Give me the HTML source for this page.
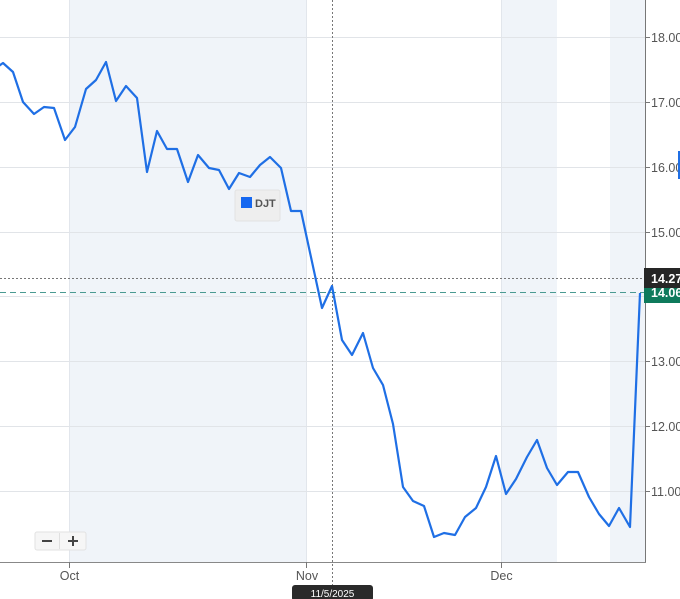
<!DOCTYPE html>
<html><head><meta charset="utf-8"><style>
html,body{margin:0;padding:0;background:#fff;}
svg{display:block;font-family:"Liberation Sans",Arial,sans-serif;}
</style></head><body>
<svg width="680" height="599" viewBox="0 0 680 599" xmlns="http://www.w3.org/2000/svg">
<rect x="0" y="0" width="680" height="599" fill="#fff"/>
<!-- bands -->
<rect x="69" y="0" width="237" height="562" fill="#f0f4f9"/>
<rect x="501" y="0" width="56" height="562" fill="#f0f4f9"/>
<rect x="610" y="0" width="35" height="562" fill="#f0f4f9"/>
<!-- vertical grid -->
<g stroke="#e2e6ec" stroke-width="1">
<line x1="69.5" y1="0" x2="69.5" y2="562"/>
<line x1="306.5" y1="0" x2="306.5" y2="562"/>
<line x1="501.5" y1="0" x2="501.5" y2="562"/>
</g>
<!-- horizontal grid -->
<g stroke="#e1e4e8" stroke-width="1">
<line x1="0" y1="37.5" x2="645" y2="37.5"/>
<line x1="0" y1="102.5" x2="645" y2="102.5"/>
<line x1="0" y1="167.5" x2="645" y2="167.5"/>
<line x1="0" y1="232.5" x2="645" y2="232.5"/>
<line x1="0" y1="296.5" x2="645" y2="296.5"/>
<line x1="0" y1="361.5" x2="645" y2="361.5"/>
<line x1="0" y1="426.5" x2="645" y2="426.5"/>
<line x1="0" y1="491.5" x2="645" y2="491.5"/>
</g>
<!-- crosshair -->
<line x1="332.5" y1="0" x2="332.5" y2="586" stroke="#777" stroke-width="1" stroke-dasharray="2,2"/>
<line x1="0" y1="278.5" x2="645" y2="278.5" stroke="#777" stroke-width="1" stroke-dasharray="2,2"/>
<!-- last price dashed -->
<line x1="0" y1="292.5" x2="645" y2="292.5" stroke="#4a9a92" stroke-width="1" stroke-dasharray="6,4"/>
<!-- series -->
<polyline fill="none" stroke="#1f6fe5" stroke-width="2.2" stroke-linejoin="round" points="-7,70 3,63 13,72 23,102 34,114 44,107 54,108 65,140 75,127 86,89 96,80 106,62 116,101 126,86 137,98 147,172 157,131 167,149 177,149 188,182 198,155 209,168 219,170 229,189 239,173 250,177 260,165 270,157 281,168 291,211 301,211 322,308 332,286 342,340 352,355 363,333 373,368 383,385 393,424 403,487 413,501 424,506 434,537 444,533 455,535 465,517 476,508 486,487 496,456 506,494 516,479 527,457 537,440 547,468 557,485 568,472 578,472 589,497 599,514 609,526 619,508 630,527 640,293"/>
<!-- axes -->
<line x1="645.5" y1="0" x2="645.5" y2="563" stroke="#777" stroke-width="1"/>
<line x1="0" y1="562.5" x2="646" y2="562.5" stroke="#888" stroke-width="1"/>
<g stroke="#777" stroke-width="1">
<line x1="69.5" y1="562" x2="69.5" y2="568"/>
<line x1="306.5" y1="562" x2="306.5" y2="568"/>
<line x1="501.5" y1="562" x2="501.5" y2="568"/>
<line x1="645" y1="37.5" x2="650" y2="37.5"/>
<line x1="645" y1="102.5" x2="650" y2="102.5"/>
<line x1="645" y1="167.5" x2="650" y2="167.5"/>
<line x1="645" y1="232.5" x2="650" y2="232.5"/>
<line x1="645" y1="361.5" x2="650" y2="361.5"/>
<line x1="645" y1="426.5" x2="650" y2="426.5"/>
<line x1="645" y1="491.5" x2="650" y2="491.5"/>
</g>
<g font-size="12.5" fill="#555">
<text x="651" y="42">18.00</text>
<text x="651" y="107">17.00</text>
<text x="651" y="172">16.00</text>
<text x="651" y="237">15.00</text>
<text x="651" y="366">13.00</text>
<text x="651" y="431">12.00</text>
<text x="651" y="496">11.00</text>
</g>
<rect x="678" y="151" width="2" height="28" fill="#1f6fe5"/>
<!-- price tags -->
<rect x="644" y="284" width="36" height="19" fill="#0f7a5c"/>
<text x="651" y="297" font-size="12.5" font-weight="bold" fill="#fff">14.06</text>
<rect x="644" y="268" width="36" height="20" fill="#262626"/>
<text x="651" y="283" font-size="12.5" font-weight="bold" fill="#fff">14.27</text>
<!-- x labels -->
<g font-size="12.5" fill="#555" text-anchor="middle">
<text x="69.5" y="580">Oct</text>
<text x="307" y="580">Nov</text>
<text x="501.5" y="580">Dec</text>
</g>
<!-- date tag -->
<rect x="292" y="585" width="81" height="16" rx="3" fill="#2a2a2a"/>
<text x="332.5" y="597" font-size="10" fill="#fff" text-anchor="middle">11/5/2025</text>
<!-- legend -->
<rect x="235" y="190" width="45" height="31" rx="2" fill="#eeeeee" stroke="#e2e2e2"/>
<rect x="241" y="197" width="11" height="11" fill="#1668f0"/>
<text x="255" y="207" font-size="11" font-weight="bold" fill="#555">DJT</text>
<!-- zoom buttons -->
<rect x="35" y="532" width="51" height="18" rx="2" fill="#f6f6f6" stroke="#e2e2e2"/>
<line x1="59.5" y1="533" x2="59.5" y2="549" stroke="#e0e0e0"/>
<rect x="42" y="540" width="10" height="2" fill="#444"/>
<rect x="68" y="540" width="10" height="2" fill="#444"/>
<rect x="72" y="536" width="2" height="10" fill="#444"/>
</svg>
</body></html>
